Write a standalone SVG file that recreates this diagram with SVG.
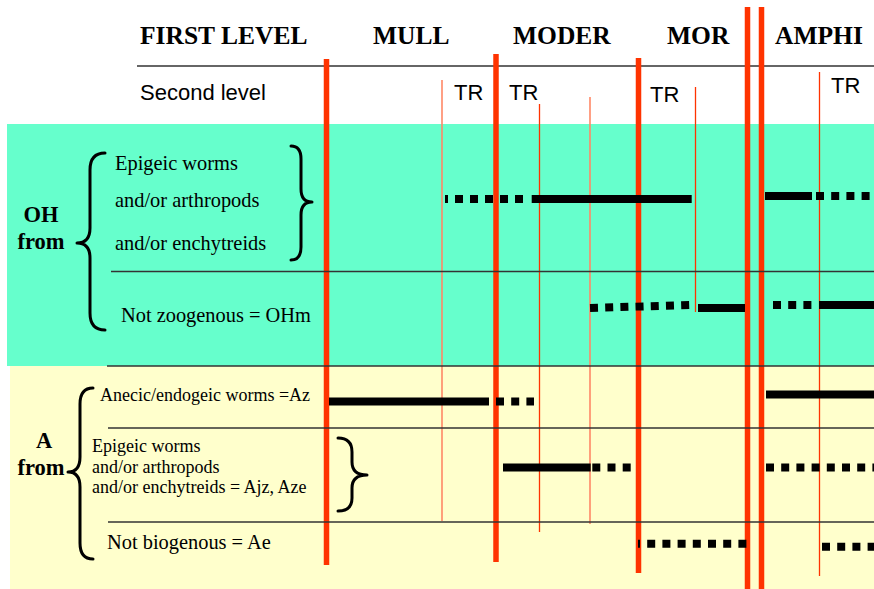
<svg xmlns="http://www.w3.org/2000/svg" width="874" height="589" viewBox="0 0 874 589">
<style>
.hdr{font-family:"Liberation Serif","Times New Roman",serif;font-weight:bold;font-size:25.5px;fill:#000}
.sans{font-family:"Liberation Sans",Arial,sans-serif;font-size:22px;fill:#000}
.lbl{font-family:"Liberation Serif","Times New Roman",serif;font-weight:bold;font-size:22.5px;fill:#000}
.t20{font-family:"Liberation Serif","Times New Roman",serif;font-size:20.4px;fill:#000}
.t18{font-family:"Liberation Serif","Times New Roman",serif;font-size:18px;fill:#000}
.hl{stroke:#333;stroke-width:1.3;fill:none}
.red{stroke:#FF3300;stroke-width:5.5;fill:none}
.thin{stroke:#FF3300;stroke-width:1.3;fill:none}
.thinl{stroke:#FF8866;stroke-width:1.6;fill:none}
.bar{stroke:#000;stroke-width:8;fill:none}
.dot{stroke:#000;stroke-width:8;fill:none;stroke-dasharray:8 7.2}
.brace{stroke:#000;stroke-width:3;fill:none;stroke-linecap:round;stroke-linejoin:round}
</style>
<rect x="0" y="0" width="874" height="589" fill="#fff"/>
<g id="backgrounds">
<rect x="7" y="124" width="867" height="242" fill="#66FFCC"/>
<rect x="10" y="366" width="864" height="223" fill="#FFFFCC"/>
</g>
<g id="header">
<text class="hdr" x="140" y="44">FIRST LEVEL</text>
<text class="hdr" x="373" y="44">MULL</text>
<text class="hdr" x="513" y="44">MODER</text>
<text class="hdr" x="667" y="44">MOR</text>
<text class="hdr" x="775" y="44">AMPHI</text>
<line class="hl" x1="137" y1="66" x2="874" y2="66"/>
<text class="sans" x="140" y="100">Second level</text>
<text class="sans" x="454" y="100">TR</text>
<text class="sans" x="509" y="100">TR</text>
<text class="sans" x="650" y="102">TR</text>
<text class="sans" x="831" y="93">TR</text>
</g>
<g id="boundaries">
<line class="thinl" x1="442" y1="80" x2="442" y2="521"/>
<line class="thin" x1="539.5" y1="104" x2="539.5" y2="532"/>
<line class="thinl" x1="590" y1="97" x2="590" y2="524" stroke="#FF9977"/>
<line class="thin" x1="695.5" y1="87" x2="695.5" y2="312"/>
<line class="thin" x1="819.5" y1="72" x2="819.5" y2="576"/>
<line class="red" x1="326.5" y1="59" x2="326.5" y2="565"/>
<line class="red" x1="496" y1="54" x2="496" y2="562"/>
<line class="red" x1="638.5" y1="58" x2="638.5" y2="573"/>
<line class="red" x1="747.5" y1="7" x2="747.5" y2="589"/>
<line class="red" x1="761.5" y1="7" x2="761.5" y2="589"/>
</g>
<g id="rows">
<line class="hl" x1="111" y1="271.5" x2="874" y2="271.5"/>
<line class="hl" x1="107" y1="366" x2="874" y2="366"/>
<line class="hl" x1="108" y1="428" x2="874" y2="428"/>
<line class="hl" x1="108" y1="522" x2="874" y2="522"/>
</g>
<g id="oh-label">
<text class="lbl" x="41" y="222" text-anchor="middle">OH</text>
<text class="lbl" x="41" y="249" text-anchor="middle">from</text>
<path class="brace" d="M105,153 Q90,153 90,170 L90,228 Q90,243 77,243 Q90,243 90,258 L90,313 Q90,330 105,330"/>
</g>
<g id="oh-zoogenous">
<text class="t20" x="115" y="170">Epigeic worms</text>
<text class="t20" x="115" y="207">and/or arthropods</text>
<text class="t20" x="115" y="250">and/or enchytreids</text>
<path class="brace" d="M291,146 Q301,146 301,159 L301,189 Q301,202 312,202 Q301,202 301,215 L301,247 Q301,260 291,260"/>
</g>
<g id="oh-not-zoogenous">
<text class="t20" x="121" y="322">Not zoogenous = OHm</text>
</g>
<g id="a-label">
<text class="lbl" x="44" y="448" text-anchor="middle">A</text>
<text class="lbl" x="41" y="475" text-anchor="middle">from</text>
<path class="brace" d="M93,388 Q80,388 80,404 L80,457 Q80,472 68,472 Q80,472 80,487 L80,543 Q80,559 93,559"/>
</g>
<g id="a-anecic">
<text class="t18" x="100" y="401">Anecic/endogeic worms =Az</text>
</g>
<g id="a-epigeic">
<text class="t18" x="92" y="452">Epigeic worms</text>
<text class="t18" x="92" y="473">and/or arthropods</text>
<text class="t18" x="92" y="493">and/or enchytreids = Ajz, Aze</text>
<path class="brace" d="M338,438 Q352,438 352,452 L352,462 Q352,475 367,475 Q352,475 352,488 L352,498 Q352,511 338,511"/>
</g>
<g id="a-not-biogenous">
<text class="t20" x="107" y="549">Not biogenous = Ae</text>
</g>
<g id="bars">
<line class="bar" x1="445" y1="199" x2="524" y2="199" stroke-dasharray="8 7" stroke-dashoffset="5"/>
<line class="bar" x1="531.7" y1="199" x2="691.7" y2="199"/>
<line class="bar" x1="765" y1="196" x2="812" y2="196"/>
<line class="dot" x1="816" y1="196" x2="874" y2="196"/>
<line class="dot" x1="590" y1="308" x2="689.5" y2="305"/>
<line class="bar" x1="698" y1="308" x2="745" y2="308"/>
<line class="dot" x1="773" y1="305" x2="812" y2="305" stroke-dasharray="8 7.5"/>
<line class="bar" x1="819" y1="305" x2="874" y2="305"/>
<line class="bar" x1="329" y1="401.5" x2="489" y2="401.5"/>
<line class="dot" x1="496" y1="401.5" x2="534" y2="401.5" stroke-dasharray="8 7"/>
<line class="bar" x1="766" y1="394.5" x2="874" y2="394.5"/>
<line class="bar" x1="503" y1="467.5" x2="590.7" y2="467.5"/>
<line class="dot" x1="592.3" y1="467.5" x2="631" y2="467.5" stroke-dasharray="8 7.5"/>
<line class="dot" x1="766" y1="467.5" x2="874" y2="467.5"/>
<line class="dot" x1="638" y1="543.7" x2="747" y2="543.7" stroke-dashoffset="6"/>
<line class="dot" x1="822" y1="546.7" x2="874" y2="546.7" stroke-dasharray="8 7.7"/>
</g>
</svg>
